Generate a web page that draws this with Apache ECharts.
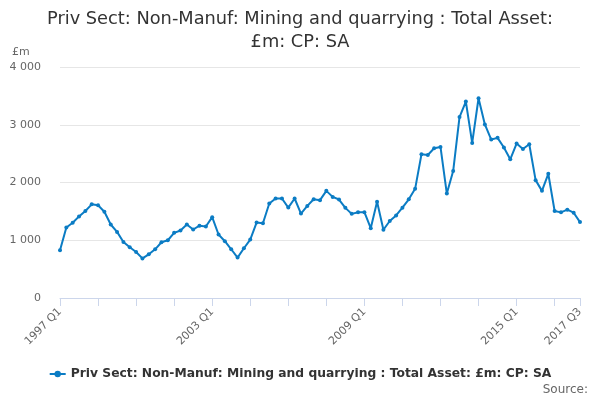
<!DOCTYPE html>
<html>
<head>
<meta charset="utf-8">
<script src="https://cdn.jsdelivr.net/npm/echarts@6/dist/echarts.min.js"></script>
<style>
  html, body { margin: 0; padding: 0; background: #fff; }
  #chart { width: 600px; height: 400px; }
</style>
</head>
<body>
<div id="chart"></div>
<script>
// quarterly categories 1997 Q1 .. 2017 Q3
const quarters = [];
for (let y = 1997; y <= 2017; y++) {
  for (let q = 1; q <= 4; q++) {
    if (y === 2017 && q > 3) break;
    quarters.push(y + ' Q' + q);
  }
}

// total assets, £m
const totalAsset = [
  826, 1221, 1302, 1413, 1506, 1622, 1605, 1494, 1273, 1145,
  971, 878, 797, 686, 756, 843, 965, 1000, 1128, 1169,
  1273, 1186, 1252, 1238, 1400, 1100, 983, 844, 700, 861,
  1012, 1306, 1295, 1636, 1723, 1723, 1566, 1723, 1462, 1595,
  1711, 1694, 1855, 1751, 1705, 1561, 1457, 1486, 1486, 1208,
  1665, 1182, 1333, 1430, 1564, 1709, 1890, 2488, 2477, 2593,
  2616, 1808, 2198, 3134, 3401, 2686, 3459, 3006, 2744, 2773,
  2605, 2401, 2674, 2581, 2663, 2041, 1855, 2151, 1506, 1483,
  1529, 1477, 1314
];

const yTicks = [0, 1000, 2000, 3000, 4000];
const seriesName = 'Priv Sect: Non-Manuf: Mining and quarrying : Total Asset: £m: CP: SA';

const last = quarters.length - 1;
const font = 'DejaVu Sans, Liberation Sans, sans-serif';

let myChart = echarts.init(document.getElementById('chart'));
let option = {
  animation: false,
  textStyle: { fontFamily: font },
  title: {
    text: 'Priv Sect: Non-Manuf: Mining and quarrying : Total Asset:\n£m: CP: SA',
    left: 'center',
    top: 3,
    textStyle: {
      fontFamily: font,
      fontSize: 17.8,
      fontWeight: 'normal',
      color: '#333333',
      lineHeight: 23
    }
  },
  grid: { left: 60, right: 20, top: 67, bottom: 102 },
  xAxis: {
    type: 'category',
    data: quarters,
    boundaryGap: false,
    axisLine: { lineStyle: { color: '#ccd6eb' } },
    axisTick: {
      length: 8,
      lineStyle: { color: '#ccd6eb' },
      interval: (i) => i % 6 === 0 || i === last
    },
    axisLabel: {
      rotate: 45,
      color: '#666666',
      fontSize: 11,
      margin: 12,
      interval: (i) => i % 24 === 0 || i === last
    },
    splitLine: { show: false }
  },
  yAxis: {
    type: 'value',
    min: yTicks[0],
    max: yTicks[yTicks.length - 1],
    interval: 1000,
    axisLine: { show: false },
    axisTick: { show: false },
    axisLabel: {
      color: '#666666',
      fontSize: 11,
      margin: 19,
      formatter: (v) => String(v).replace(/\B(?=(\d{3})+(?!\d))/g, ' ')
    },
    splitLine: { lineStyle: { color: '#e6e6e6' } }
  },
  legend: {
    bottom: 15,
    left: 'center',
    itemWidth: 16,
    itemHeight: 8,
    textStyle: { fontFamily: font, fontSize: 12.3, fontWeight: 'bold', color: '#333333' },
    data: [seriesName]
  },
  graphic: [
    { type: 'text', left: 12, top: 47, style: { text: '£m', fill: '#666666', font: '11px ' + font } },
    { type: 'text', right: 12, top: 384, style: { text: 'Source:', fill: '#666666', font: '12px ' + font } }
  ],
  series: [
    {
      name: seriesName,
      type: 'line',
      data: totalAsset,
      color: '#0b7cc4',
      symbol: 'circle',
      symbolSize: 4,
      lineStyle: { width: 2 }
    }
  ]
};
myChart.setOption(option);
</script>
</body>
</html>
